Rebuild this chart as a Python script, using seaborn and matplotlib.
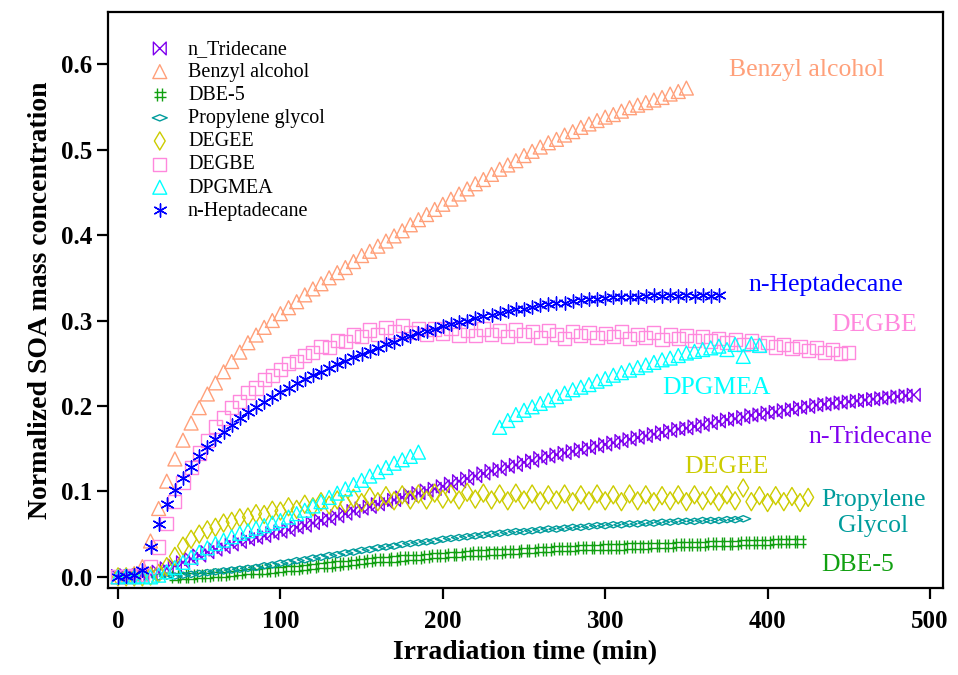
import numpy as np
import matplotlib
matplotlib.use("Agg")
import matplotlib.pyplot as plt
from matplotlib.path import Path
import seaborn as sns

# ==================================================
# Data (normalized SOA mass, read every 5 min)
# ==================================================
step = 5

tridecane_start = 0
tridecane = [
    0.001, 0.002, 0.001, 0.002, 0.003, 0.006, 0.010, 0.013, 0.017, 0.021,
    0.025, 0.029, 0.032, 0.035, 0.038, 0.041, 0.044, 0.046, 0.048, 0.051,
    0.053, 0.055, 0.058, 0.060, 0.063, 0.066, 0.068, 0.071, 0.074, 0.077,
    0.080, 0.082, 0.085, 0.088, 0.090, 0.093, 0.096, 0.098, 0.101, 0.103,
    0.106, 0.109, 0.112, 0.115, 0.118, 0.121, 0.124, 0.126, 0.129, 0.131,
    0.134, 0.136, 0.139, 0.141, 0.143, 0.145, 0.147, 0.149, 0.151, 0.153,
    0.155, 0.157, 0.159, 0.161, 0.163, 0.165, 0.167, 0.169, 0.171, 0.173,
    0.174, 0.176, 0.178, 0.180, 0.182, 0.184, 0.185, 0.187, 0.189, 0.190,
    0.192, 0.193, 0.195, 0.196, 0.198, 0.199, 0.201, 0.202, 0.203, 0.204,
    0.205, 0.206, 0.207, 0.208, 0.209, 0.210, 0.211, 0.212, 0.213,
]

benzyl_start = 0
benzyl = [
    0.000, 0.002, 0.004, 0.012, 0.042, 0.080, 0.112, 0.138, 0.160, 0.180,
    0.198, 0.214, 0.227, 0.240, 0.252, 0.263, 0.274, 0.283, 0.292, 0.300,
    0.308, 0.315, 0.322, 0.330, 0.337, 0.343, 0.350, 0.356, 0.362, 0.369,
    0.376, 0.381, 0.387, 0.393, 0.399, 0.405, 0.412, 0.418, 0.424, 0.430,
    0.436, 0.442, 0.448, 0.454, 0.460, 0.465, 0.471, 0.477, 0.482, 0.487,
    0.493, 0.498, 0.503, 0.508, 0.512, 0.517, 0.521, 0.526, 0.530, 0.534,
    0.538, 0.541, 0.545, 0.549, 0.552, 0.555, 0.558, 0.561, 0.565, 0.568,
    0.572,
]

dbe5_start = 35
dbe5 = [
    0.000, 0.001, 0.001,
    0.002, 0.002, 0.003, 0.003, 0.004, 0.005, 0.006, 0.006, 0.007, 0.008,
    0.009, 0.010, 0.010, 0.011, 0.012, 0.013, 0.014, 0.015, 0.016, 0.017,
    0.018, 0.019, 0.020, 0.020, 0.021, 0.022, 0.023, 0.023, 0.024, 0.025,
    0.025, 0.026, 0.026, 0.027, 0.028, 0.028, 0.029, 0.029, 0.030, 0.030,
    0.031, 0.031, 0.032, 0.032, 0.033, 0.033, 0.033, 0.034, 0.034, 0.034,
    0.035, 0.035, 0.035, 0.036, 0.036, 0.036, 0.037, 0.037, 0.037, 0.038,
    0.038, 0.038, 0.038, 0.039, 0.039, 0.039, 0.039, 0.040, 0.040, 0.040,
    0.040, 0.041, 0.041, 0.041, 0.041,
]

propylene_start = 25
propylene = [
    0.000, 0.001, 0.001, 0.002, 0.003,
    0.004, 0.005, 0.006, 0.007, 0.008, 0.009, 0.010, 0.011, 0.013, 0.014,
    0.016, 0.017, 0.019, 0.020, 0.022, 0.023, 0.025, 0.026, 0.028, 0.029,
    0.031, 0.032, 0.034, 0.035, 0.036, 0.038, 0.039, 0.040, 0.041, 0.042,
    0.044, 0.045, 0.046, 0.047, 0.048, 0.049, 0.050, 0.051, 0.052, 0.053,
    0.053, 0.054, 0.055, 0.056, 0.056, 0.057, 0.058, 0.058, 0.059, 0.060,
    0.060, 0.061, 0.061, 0.062, 0.062, 0.063, 0.063, 0.064, 0.064, 0.065,
    0.065, 0.065, 0.066, 0.066, 0.066, 0.067, 0.067, 0.068,
]

degee_start = 0
degee = [
    0.000, 0.000, 0.000, 0.000, 0.001, 0.004, 0.012, 0.024, 0.036, 0.044,
    0.050, 0.055, 0.058, 0.063, 0.065, 0.069, 0.070, 0.074, 0.073, 0.078,
    0.077, 0.082, 0.079, 0.085, 0.082, 0.088, 0.084, 0.090, 0.086, 0.092,
    0.087, 0.094, 0.088, 0.095, 0.089, 0.096, 0.090, 0.097, 0.090, 0.098,
    0.091, 0.097, 0.090, 0.099, 0.091, 0.098, 0.090, 0.097, 0.089, 0.098,
    0.090, 0.097, 0.089, 0.096, 0.090, 0.097, 0.088, 0.096, 0.089, 0.097,
    0.089, 0.096, 0.088, 0.097, 0.089, 0.096, 0.088, 0.095, 0.089, 0.096,
    0.088, 0.096, 0.089, 0.095, 0.088, 0.096, 0.089, 0.104, 0.088, 0.095,
    0.087, 0.095, 0.088, 0.094, 0.087, 0.093,
]

degbe_start = 0
degbe = [
    0.000, 0.000, 0.001, 0.003, 0.012, 0.035, 0.062, 0.088, 0.110, 0.128,
    0.145, 0.160, 0.176, 0.186, 0.198, 0.205, 0.216, 0.221, 0.231, 0.236,
    0.243, 0.250, 0.252, 0.259, 0.263, 0.270, 0.268, 0.277, 0.275, 0.283,
    0.281, 0.289, 0.284, 0.292, 0.287, 0.294, 0.286, 0.291, 0.284, 0.290,
    0.285, 0.291, 0.283, 0.289, 0.282, 0.290, 0.284, 0.288, 0.281, 0.289,
    0.283, 0.287, 0.280, 0.288, 0.284, 0.279, 0.287, 0.282, 0.286, 0.280,
    0.285, 0.281, 0.287, 0.279, 0.284, 0.280, 0.286, 0.278, 0.283, 0.279,
    0.282, 0.277, 0.281, 0.276, 0.279, 0.274, 0.278, 0.272, 0.276, 0.271,
    0.274, 0.269, 0.272, 0.267, 0.270, 0.265, 0.268, 0.263, 0.266, 0.261,
    0.263,
]

# DPGMEA has two runs with a gap between them
dpgmea_early_start = 0
dpgmea_early = [
    0.000, 0.001, 0.000, 0.001, 0.000,
    0.002, 0.006, 0.011, 0.017, 0.023, 0.029, 0.034, 0.039, 0.043, 0.047,
    0.051, 0.054, 0.057, 0.060, 0.063, 0.066, 0.070, 0.074, 0.078, 0.083,
    0.088, 0.093, 0.098, 0.103, 0.108, 0.113, 0.118, 0.123, 0.128, 0.133,
    0.137, 0.141, 0.146,
]
dpgmea_late_start = 235
dpgmea_late = [
    0.175, 0.183, 0.190, 0.195, 0.199, 0.203, 0.207, 0.211, 0.215, 0.219,
    0.222, 0.225, 0.229, 0.232, 0.236, 0.239, 0.242, 0.245, 0.248, 0.251,
    0.254, 0.256, 0.259, 0.262, 0.264, 0.266, 0.268, 0.270, 0.266, 0.272,
    0.258, 0.273, 0.271,
]

heptadecane_start = 0
heptadecane = [
    0.000, 0.001, 0.002, 0.008, 0.035, 0.062, 0.085, 0.102, 0.116, 0.129,
    0.141, 0.152, 0.161, 0.170, 0.178, 0.186, 0.193, 0.199, 0.205, 0.211,
    0.216, 0.221, 0.227, 0.231, 0.236, 0.240, 0.245, 0.249, 0.253, 0.257,
    0.261, 0.264, 0.268, 0.272, 0.275, 0.279, 0.282, 0.285, 0.288, 0.290,
    0.293, 0.296, 0.298, 0.300, 0.303, 0.305, 0.307, 0.309, 0.311, 0.313,
    0.314, 0.316, 0.318, 0.319, 0.320, 0.321, 0.323, 0.324, 0.325, 0.325,
    0.326, 0.327, 0.327, 0.328, 0.328, 0.329, 0.330, 0.329, 0.330, 0.329,
    0.330, 0.329, 0.330, 0.329, 0.330,
]


def times(start, values):
    return start + step * np.arange(len(values))


# ==================================================
# Markers
# ==================================================
M, L, C = Path.MOVETO, Path.LINETO, Path.CLOSEPOLY
bowtie = Path([(-1, 1), (-1, -1), (1, 1), (1, -1), (-1, 1)], [M, L, L, L, C])
hashmark = Path(
    [(-0.4, -1), (-0.4, 1), (0.4, -1), (0.4, 1),
     (-0.9, -0.4), (0.9, -0.4), (-0.9, 0.4), (0.9, 0.4)],
    [M, L, M, L, M, L, M, L],
)
wide_diamond = Path([(-1, 0), (0, 0.42), (1, 0), (0, -0.42), (-1, 0)],
                    [M, L, L, L, C])

# name, times, values, color, marker, size, hollow
series = [
    ("n_Tridecane", times(tridecane_start, tridecane), tridecane,
     "#7F00EE", bowtie, 85, True),
    ("Benzyl alcohol", times(benzyl_start, benzyl), benzyl,
     "#FFA07A", "^", 100, True),
    ("DBE-5", times(dbe5_start, dbe5), dbe5,
     "#11A011", hashmark, 90, True),
    ("Propylene glycol", times(propylene_start, propylene), propylene,
     "#009C9C", wide_diamond, 115, True),
    ("DEGEE", times(degee_start, degee), degee,
     "#CCCC00", "d", 85, True),
    ("DEGBE", times(degbe_start, degbe), degbe,
     "#FF88DD", "s", 90, True),
    ("DPGMEA",
     np.concatenate([times(dpgmea_early_start, dpgmea_early),
                     times(dpgmea_late_start, dpgmea_late)]),
     dpgmea_early + dpgmea_late,
     "#00FFFF", "^", 100, True),
    ("n-Heptadecane", times(heptadecane_start, heptadecane), heptadecane,
     "#0000FF", (6, 2, 0), 90, False),
]

# text labels drawn next to each curve
curve_labels = [
    ("Benzyl alcohol", 376, 0.593, "#FFA07A", "left"),
    ("n-Heptadecane", 388, 0.3415, "#0000FF", "left"),
    ("DEGBE", 439, 0.295, "#FF88DD", "left"),
    ("DPGMEA", 335, 0.221, "#00FFFF", "left"),
    ("n-Tridecane", 425, 0.164, "#7F00EE", "left"),
    ("DEGEE", 349, 0.1287, "#CCCC00", "left"),
    ("Propylene\nGlycol", 465, 0.075, "#009C9C", "center"),
    ("DBE-5", 433, 0.014, "#11A011", "left"),
]

# ==================================================
# Plot
# ==================================================
sns.set_theme(style="ticks")
plt.rcParams["font.family"] = ["Liberation Serif", "DejaVu Serif"]
plt.rcParams["text.color"] = "black"
plt.rcParams["axes.labelcolor"] = "black"

fig = plt.figure(figsize=(9.58, 6.75), dpi=100)
ax = fig.add_axes([0.1127, 0.1289, 0.8716, 0.8533])

for name, t, v, col, mk, size, hollow in series:
    if hollow:
        sns.scatterplot(x=t, y=v, marker=mk, s=size, facecolor="none",
                        edgecolor=col, linewidth=1.0, ax=ax, label=name)
    else:
        sns.scatterplot(x=t, y=v, marker=mk, s=size, color=col,
                        linewidth=1.0, ax=ax, label=name)

for text, x, y, col, ha in curve_labels:
    ax.text(x, y, text, color=col, fontsize=18.5, ha=ha, va="center",
            linespacing=1.25)

ax.set_xlim(-6.2, 508)
ax.set_ylim(-0.013, 0.661)
ax.set_xticks([0, 100, 200, 300, 400, 500])
ax.set_yticks([0.0, 0.1, 0.2, 0.3, 0.4, 0.5, 0.6])
ax.set_yticklabels(["0.0", "0.1", "0.2", "0.3", "0.4", "0.5", "0.6"])

for side in ["left", "right", "top", "bottom"]:
    ax.spines[side].set_linewidth(1.6)
    ax.spines[side].set_color("black")

ax.tick_params(axis="both", direction="out", length=8, width=1.6,
               labelsize=18, colors="black")
ax.tick_params(axis="x", pad=8)
ax.tick_params(axis="y", pad=3)
for lab in ax.get_xticklabels() + ax.get_yticklabels():
    lab.set_fontweight("bold")

ax.set_xlabel("Irradiation time (min)", fontsize=20, fontweight="bold",
              labelpad=5, color="black")
ax.set_ylabel("Normalized SOA mass concentration", fontsize=20,
              fontweight="bold", labelpad=6, color="black")

leg = ax.legend(loc="upper left", bbox_to_anchor=(0.05, 0.952),
                frameon=False, fontsize=14.5, handlelength=1.0,
                handletextpad=0.9, labelspacing=0.2, borderpad=0,
                borderaxespad=0)
for txt in leg.get_texts():
    txt.set_color("black")

plt.savefig("out.png", dpi=100)
